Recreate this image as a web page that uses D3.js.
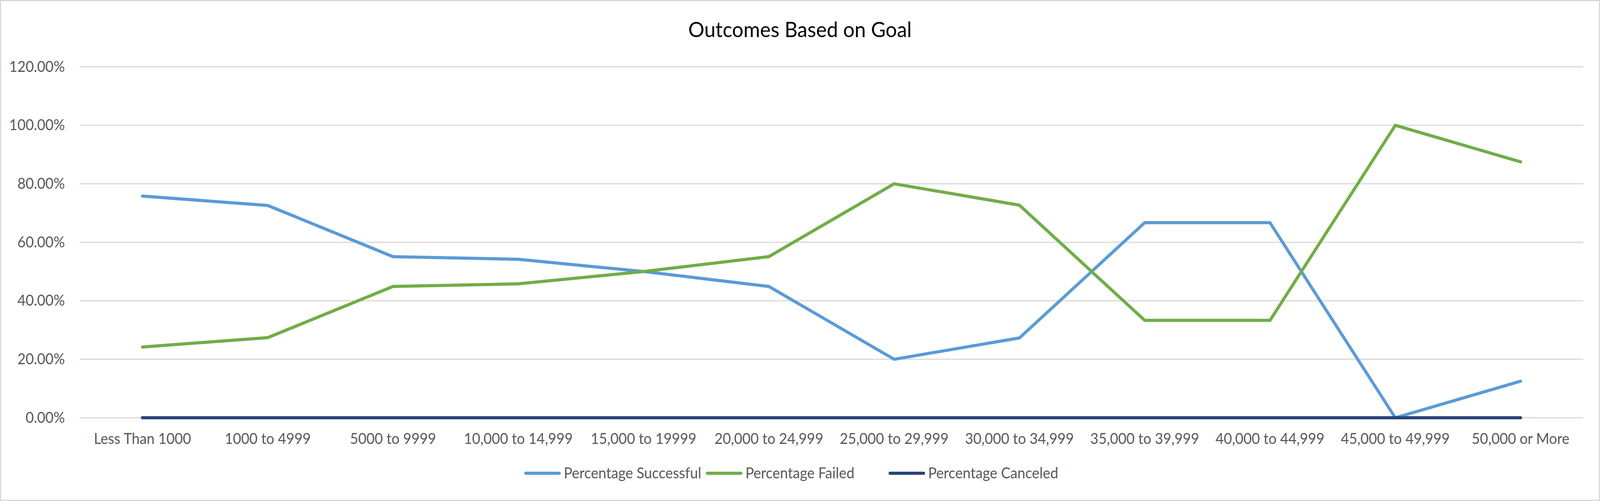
<!DOCTYPE html>
<html lang="en">
<head>
  <script src="https://d3js.org/d3.v7.min.js"></script>
  <style>
    html, body { margin: 0; padding: 0; overflow: hidden; background: #fff; font-family: Lato, "Open Sans", sans-serif; }
    #chart { display: block; width: 100vw; height: 100vh; }
  </style>
</head>
<body>
  <svg id="chart"></svg>
  <script>
    const categories = ["Less Than 1000", "1000 to 4999", "5000 to 9999", "10,000 to 14,999",
      "15,000 to 19999", "20,000 to 24,999", "25,000 to 29,999", "30,000 to 34,999",
      "35,000 to 39,999", "40,000 to 44,999", "45,000 to 49,999", "50,000 or More"];
    const successful = [0.758, 0.726, 0.551, 0.542, 0.50, 0.449, 0.20, 0.273, 0.667, 0.667, 0.0, 0.125];
    const failed = [0.242, 0.274, 0.449, 0.458, 0.50, 0.551, 0.80, 0.727, 0.333, 0.333, 1.0, 0.875];
    const canceled = [0, 0, 0, 0, 0, 0, 0, 0, 0, 0, 0, 0];
    const yTicks = [0, 0.2, 0.4, 0.6, 0.8, 1.0, 1.2];

    const series = [
      { name: "Percentage Successful", values: successful, color: "#5B9BD5" },
      { name: "Percentage Failed", values: failed, color: "#70AD47" },
      { name: "Percentage Canceled", values: canceled, color: "#264478" }
    ];

    const width = 4291, height = 1282;
    const margin = { top: 171, right: 45, bottom: 213, left: 214 };

    const svg = d3.select("#chart")
      .attr("viewBox", [0, 0, width, height])
      .attr("preserveAspectRatio", "none");

    svg.append("rect")
      .attr("x", 1.5).attr("y", 1.5)
      .attr("width", width - 3).attr("height", height - 3)
      .attr("fill", "#fff").attr("stroke", "#d9d9d9").attr("stroke-width", 3);

    const x = d3.scaleBand().domain(categories)
      .range([margin.left, width - margin.right]);
    const y = d3.scaleLinear().domain([0, 1.2])
      .range([height - margin.bottom, margin.top]);

    // gridlines
    svg.append("g").selectAll("line").data(yTicks).enter().append("line")
      .attr("x1", margin.left).attr("x2", width - margin.right)
      .attr("y1", d => y(d)).attr("y2", d => y(d))
      .attr("stroke", "#d9d9d9").attr("stroke-width", 3);

    // y axis
    const yAxis = svg.append("g")
      .attr("transform", `translate(${margin.left},0)`)
      .call(d3.axisLeft(y).tickValues(yTicks).tickFormat(d3.format(".2%")).tickSize(0).tickPadding(40));
    yAxis.select(".domain").remove();
    yAxis.selectAll("text").attr("font-size", 38).attr("fill", "#595959")
      .attr("font-family", "Lato, 'Open Sans', sans-serif");

    // x axis
    const xAxis = svg.append("g")
      .attr("transform", `translate(0,${height - margin.bottom})`)
      .call(d3.axisBottom(x).tickSize(0).tickPadding(40));
    xAxis.select(".domain").remove();
    xAxis.selectAll("text").attr("font-size", 38).attr("fill", "#595959")
      .attr("font-family", "Lato, 'Open Sans', sans-serif");

    // lines
    const line = d3.line()
      .x((d, i) => x(categories[i]) + x.bandwidth() / 2)
      .y(d => y(d));

    svg.append("g").selectAll("path").data(series).enter().append("path")
      .attr("d", d => line(d.values))
      .attr("fill", "none")
      .attr("stroke", d => d.color)
      .attr("stroke-width", 8)
      .attr("stroke-linecap", "round")
      .attr("stroke-linejoin", "round");

    // title
    svg.append("text")
      .attr("x", width / 2).attr("y", 95)
      .attr("text-anchor", "middle")
      .attr("font-size", 54).attr("fill", "#000")
      .text("Outcomes Based on Goal");

    // legend
    const legendX = [1410, 1897, 2387];
    const legend = svg.append("g").selectAll("g").data(series).enter().append("g")
      .attr("transform", (d, i) => `translate(${legendX[i]},1211)`);
    legend.append("line")
      .attr("x1", 0).attr("x2", 90).attr("y1", 0).attr("y2", 0)
      .attr("stroke", d => d.color).attr("stroke-width", 8).attr("stroke-linecap", "round");
    legend.append("text")
      .attr("x", 102).attr("y", 13)
      .attr("font-size", 38).attr("fill", "#595959")
      .text(d => d.name);
  </script>
</body>
</html>
